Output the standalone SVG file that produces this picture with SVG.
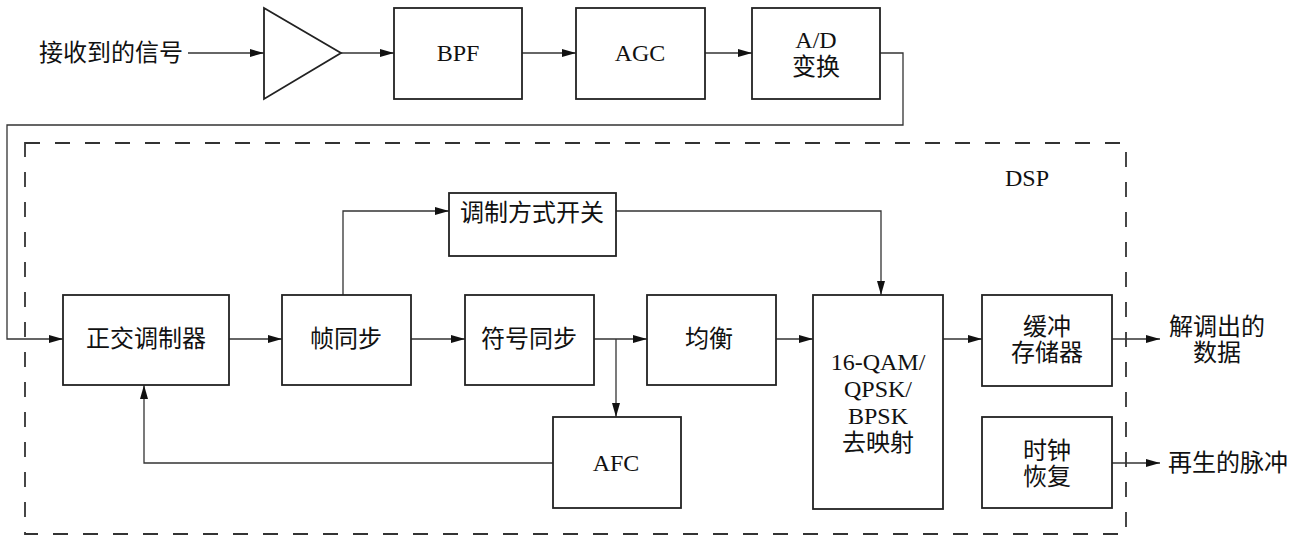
<svg xmlns="http://www.w3.org/2000/svg" width="1300" height="539" viewBox="0 0 1300 539">
<defs>
<marker id="ah" viewBox="0 0 14 8" refX="14" refY="4" markerWidth="14" markerHeight="8" markerUnits="userSpaceOnUse" orient="auto">
<path d="M0,0 L14,4 L0,8 Z" fill="#111"/>
</marker>
<style>
.box{fill:#fff;stroke:#222;stroke-width:1.8}
.ln{fill:none;stroke:#333;stroke-width:1.3}
.ar{fill:none;stroke:#333;stroke-width:1.3;marker-end:url(#ah)}
.t{font-family:"Liberation Serif","Noto Sans CJK SC",serif;font-size:24px;fill:#111;text-anchor:middle;dominant-baseline:central}
.tl{font-family:"Liberation Serif","Noto Sans CJK SC",serif;font-size:24px;fill:#111;dominant-baseline:central}
.dash{fill:none;stroke:#333;stroke-width:1.8;stroke-dasharray:15,15}
</style>
</defs>
<rect width="1300" height="539" fill="#fff"/>
<rect id="dsp" class="dash" x="25" y="143" width="1101" height="391"/>
<text class="t" x="1027" y="178">DSP</text>
<g id="connectors">
<line class="ar" x1="188" y1="53" x2="264" y2="53"/>
<line class="ar" x1="341" y1="53" x2="394" y2="53"/>
<line class="ar" x1="522" y1="53" x2="576" y2="53"/>
<line class="ar" x1="705" y1="53" x2="752" y2="53"/>
<polyline class="ar" points="880,53 903,53 903,125 7,125 7,339 63,339"/>
<line class="ar" x1="229" y1="339" x2="282" y2="339"/>
<polyline class="ar" points="343,295 343,211 449,211"/>
<polyline class="ar" points="616,211 881,211 881,295"/>
<line class="ar" x1="411" y1="339" x2="465" y2="339"/>
<line class="ar" x1="594" y1="339" x2="647" y2="339"/>
<line class="ar" x1="616" y1="339" x2="616" y2="417"/>
<polyline class="ar" points="553,463 144,463 144,385"/>
<line class="ar" x1="776" y1="339" x2="813" y2="339"/>
<line class="ar" x1="943" y1="339" x2="982" y2="339"/>
<line class="ar" x1="1112" y1="339" x2="1160" y2="339"/>
<line class="ar" x1="1112" y1="463" x2="1160" y2="463"/>
</g>
<g id="input"><text class="tl" x="39" y="53">接收到的信号</text></g>
<g id="amp"><polygon class="box" points="264,8 341,53 264,99"/></g>
<g id="bpf"><rect class="box" x="394" y="8" width="128" height="91"/><text class="t" x="458" y="53">BPF</text></g>
<g id="agc"><rect class="box" x="576" y="8" width="129" height="91"/><text class="t" x="640" y="53">AGC</text></g>
<g id="ad"><rect class="box" x="752" y="8" width="128" height="91"/><text class="t" x="816" y="40">A/D</text><text class="t" x="816" y="67">变换</text></g>
<g id="quad"><rect class="box" x="63" y="295" width="166" height="90"/><text class="t" x="146" y="339">正交调制器</text></g>
<g id="frame"><rect class="box" x="282" y="295" width="129" height="90"/><text class="t" x="346" y="339">帧同步</text></g>
<g id="modsw"><rect class="box" x="449" y="193" width="167" height="63"/><text class="t" x="532" y="213">调制方式开关</text></g>
<g id="sym"><rect class="box" x="465" y="295" width="129" height="90"/><text class="t" x="529" y="339">符号同步</text></g>
<g id="eq"><rect class="box" x="647" y="295" width="129" height="90"/><text class="t" x="709" y="339">均衡</text></g>
<g id="demap"><rect class="box" x="813" y="295" width="130" height="214"/>
<text class="t" x="878" y="362">16-QAM/</text><text class="t" x="878" y="389">QPSK/</text><text class="t" x="878" y="416">BPSK</text><text class="t" x="878" y="443">去映射</text></g>
<g id="afc"><rect class="box" x="553" y="417" width="128" height="91"/><text class="t" x="616" y="463">AFC</text></g>
<g id="buf"><rect class="box" x="982" y="295" width="130" height="91"/><text class="t" x="1047" y="327">缓冲</text><text class="t" x="1047" y="353">存储器</text></g>
<g id="clk"><rect class="box" x="982" y="417" width="130" height="91"/><text class="t" x="1047" y="451">时钟</text><text class="t" x="1047" y="477">恢复</text></g>
<g id="out1"><text class="t" x="1217" y="327">解调出的</text><text class="t" x="1217" y="353">数据</text></g>
<g id="out2"><text class="tl" x="1168" y="463">再生的脉冲</text></g>
</svg>
